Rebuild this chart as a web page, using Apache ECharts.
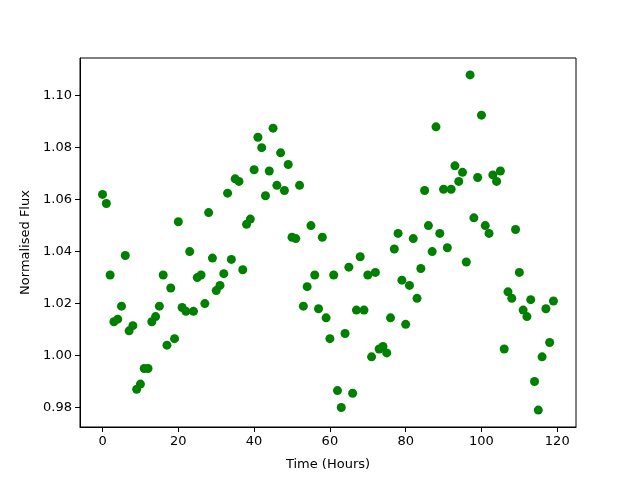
<!DOCTYPE html>
<html>
<head>
<meta charset="utf-8">
<script src="https://cdn.jsdelivr.net/npm/echarts@6/dist/echarts.min.js"></script>
<style>
  html, body { margin: 0; padding: 0; background: #fff; }
  #chart { width: 640px; height: 480px; }
</style>
</head>
<body>
<div id="chart"></div>
<script>
// 观测时间（小时）
var hours = [
  0, 1, 2, 3, 4, 5, 6, 7, 8, 9, 10, 11, 12, 13, 14, 15, 16, 17, 18, 19,
  20, 21, 22, 23, 24, 25, 26, 27, 28, 29, 30, 31, 32, 33, 34, 35, 36, 37, 38, 39,
  40, 41, 42, 43, 44, 45, 46, 47, 48, 49, 50, 51, 52, 53, 54, 55, 56, 57, 58, 59,
  60, 61, 62, 63, 64, 65, 66, 67, 68, 69, 70, 71, 72, 73, 74, 75, 76, 77, 78, 79,
  80, 81, 82, 83, 84, 85, 86, 87, 88, 89, 90, 91, 92, 93, 94, 95, 96, 97, 98, 99,
  100, 101, 102, 103, 104, 105, 106, 107, 108, 109, 110, 111, 112, 113, 114, 115, 116, 117, 118, 119
];
// 归一化流量
var flux = [
  1.062, 1.0585, 1.031, 1.013, 1.014, 1.019, 1.0385, 1.0095, 1.0115, 0.987,
  0.989, 0.995, 0.995, 1.013, 1.015, 1.019, 1.031, 1.004, 1.026, 1.0065,
  1.0515, 1.0185, 1.017, 1.040, 1.017, 1.030, 1.031, 1.020, 1.055, 1.0375,
  1.025, 1.027, 1.0315, 1.0625, 1.037, 1.068, 1.067, 1.033, 1.0505, 1.0525,
  1.0715, 1.084, 1.080, 1.0615, 1.071, 1.0875, 1.0655, 1.078, 1.0635, 1.0735,
  1.0455, 1.045, 1.0655, 1.019, 1.0265, 1.050, 1.031, 1.018, 1.0455, 1.0145,
  1.0065, 1.031, 0.9865, 0.980, 1.0085, 1.034, 0.9855, 1.0175, 1.038, 1.0175,
  1.031, 0.9995, 1.032, 1.0025, 1.0035, 1.001, 1.0145, 1.041, 1.047, 1.029,
  1.012, 1.027, 1.045, 1.022, 1.0335, 1.0635, 1.050, 1.040, 1.088, 1.047,
  1.064, 1.0415, 1.064, 1.073, 1.067, 1.0705, 1.036, 1.108, 1.053, 1.0685,
  1.0925, 1.050, 1.047, 1.0695, 1.067, 1.071, 1.0025, 1.0245, 1.022, 1.0485,
  1.032, 1.0175, 1.015, 1.0215, 0.990, 0.979, 0.9995, 1.018, 1.005, 1.021
];
var xTicks = [0, 20, 40, 60, 80, 100, 120];
var yTicks = [0.98, 1.00, 1.02, 1.04, 1.06, 1.08, 1.10];

var chart = echarts.init(document.getElementById('chart'));
var points = [];
for (var i = 0; i < hours.length; i++) {
  points.push([hours[i], flux[i]]);
}
var font = 'DejaVu Sans';
var option = {
  animation: false,
  backgroundColor: '#fff',
  grid: {
    left: 80, top: 58, right: 64, bottom: 53,
    show: true, borderColor: '#000', borderWidth: 1, backgroundColor: 'transparent'
  },
  xAxis: {
    type: 'value',
    min: -5.95,
    max: 124.95,
    name: 'Time (Hours)',
    nameLocation: 'middle',
    nameGap: 31,
    nameTextStyle: { fontFamily: font, fontSize: 13, color: '#000' },
    axisLine: { show: true, onZero: false, lineStyle: { color: '#000' } },
    axisTick: { show: true, inside: false, length: 5, lineStyle: { color: '#000' }, customValues: xTicks },
    axisLabel: { fontFamily: font, fontSize: 13, color: '#000', margin: 8, customValues: xTicks },
    splitLine: { show: false }
  },
  yAxis: {
    type: 'value',
    min: 0.9725,
    max: 1.1145,
    name: 'Normalised Flux',
    nameLocation: 'middle',
    nameGap: 47,
    nameTextStyle: { fontFamily: font, fontSize: 13, color: '#000' },
    axisLine: { show: true, onZero: false, lineStyle: { color: '#000' } },
    axisTick: { show: true, inside: false, length: 5, lineStyle: { color: '#000' }, customValues: yTicks },
    axisLabel: {
      fontFamily: font, fontSize: 13, color: '#000', margin: 8, customValues: yTicks,
      formatter: function (v) { return v.toFixed(2); }
    },
    splitLine: { show: false }
  },
  series: [{
    type: 'scatter',
    data: points,
    symbol: 'circle',
    symbolSize: 9,
    itemStyle: { color: '#008000', opacity: 1 }
  }]
};
chart.setOption(option);
</script>
</body>
</html>
